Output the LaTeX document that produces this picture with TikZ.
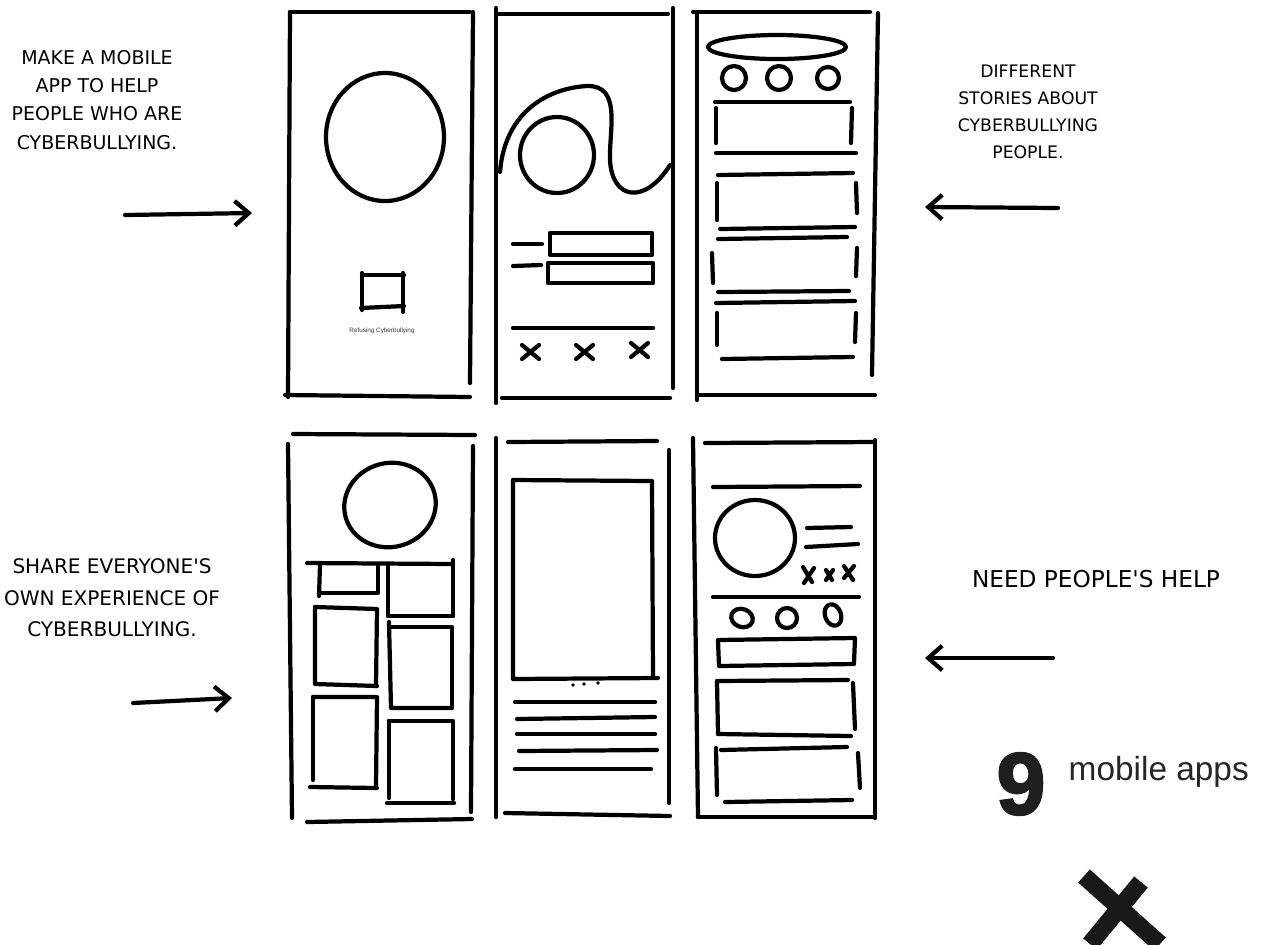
\documentclass[tikz,border=0pt]{standalone}
\usepackage{fontspec}
\setmainfont{Liberation Sans}
\newfontfamily\handfont{DejaVu Sans}
\newfontfamily\heavyfont{Liberation Sans Bold}[FakeBold=2.5]
\usetikzlibrary{arrows.meta,positioning}

\begin{document}
\begin{tikzpicture}[
  x=0.01cm, y=-0.01cm,
  pen/.style={line width=1.2pt, line cap=round, line join=round},
  note/.style={align=center, inner sep=0pt},
  hint/.style={pen, -{Straight Barb[length=4pt, width=7pt]}},
  brush/.style={line width=5pt, draw=black!90}
]
\useasboundingbox (0,0) rectangle (1262,944);

% notes and arrows
\node[note, font=\handfont\fontsize{5.4}{8}\selectfont] (make) at (97,100)
  {MAKE A MOBILE\\APP TO HELP\\PEOPLE WHO ARE\\CYBERBULLYING.};
\node[note, font=\handfont\fontsize{4.9}{7.7}\selectfont] (stories) at (1028,112)
  {DIFFERENT\\STORIES ABOUT\\CYBERBULLYING\\PEOPLE.};
\node[note, font=\handfont\fontsize{5.7}{9}\selectfont] (share) at (112,598)
  {SHARE EVERYONE'S\\OWN EXPERIENCE OF\\CYBERBULLYING.};
\node[note, font=\handfont\fontsize{6.6}{9}\selectfont] (need) at (1096,579)
  {NEED PEOPLE'S HELP};

\coordinate (makeA) at (125,215);
\coordinate (makeB) at (252,213);
\coordinate (storiesA) at (1058,208);
\coordinate (storiesB) at (925,207);
\coordinate (shareA) at (133,703);
\coordinate (shareB) at (232,698);
\coordinate (needA) at (1053,658);
\coordinate (needB) at (925,658);
\draw[hint] (makeA) -- (makeB);
\draw[hint] (storiesA) -- (storiesB);
\draw[hint] (shareA) -- (shareB);
\draw[hint] (needA) -- (needB);

% screen 1: splash
\draw[pen] (290,12) -- (470,12);
\draw[pen] (290,12) -- (288,397);
\draw[pen] (473,12) -- (470,383);
\draw[pen] (285,395) -- (470,397);
\draw[pen] (385,137) ellipse [x radius=59, y radius=64];
\draw[pen] (362,273) -- (362,310);
\draw[pen] (362,275) -- (404,275);
\draw[pen] (403,273) -- (403,312);
\draw[pen] (361,308) -- (404,306);
\node[note, font=\fontsize{1.8}{2}\selectfont, text=black!80] (refusing) at (382,331)
  {Refusing Cyberbullying};

% screen 2: login
\draw[pen] (496,8) -- (496,403);
\draw[pen] (497,14) -- (668,14);
\draw[pen] (673,8) -- (673,388);
\draw[pen] (502,398) -- (670,398);
\draw[pen] (500,172) .. controls (505,110) and (550,88) .. (587,86)
  .. controls (622,85) and (609,130) .. (610,160)
  .. controls (612,200) and (645,205) .. (670,165);
\draw[pen] (557,155) ellipse [x radius=37, y radius=38];
\draw[pen] (513,244) -- (542,244);
\draw[pen] (513,266) -- (541,265);
\draw[pen] (550,233) rectangle (652,255);
\draw[pen] (548,263) rectangle (653,283);
\draw[pen] (513,328) -- (653,328);
\draw[pen] (522,345) -- (539,359) (522,359) -- (539,345);
\draw[pen] (576,345) -- (593,359) (576,359) -- (593,345);
\draw[pen] (631,343) -- (648,357) (631,357) -- (648,343);

% screen 3: stories
\draw[pen] (693,12) -- (870,12);
\draw[pen] (697,13) -- (697,400);
\draw[pen] (878,13) -- (872,375);
\draw[pen] (697,395) -- (875,395);
\draw[pen] (777,47) ellipse [x radius=69, y radius=12];
\draw[pen] (734,78) circle [radius=12];
\draw[pen] (779,78) circle [radius=12];
\draw[pen] (828,78) circle [radius=11];
\draw[pen] (715,102) -- (850,102);
\draw[pen] (716,108) -- (716,143);
\draw[pen] (852,108) -- (851,143);
\draw[pen] (716,153) -- (856,153);
\draw[pen] (718,175) -- (853,173);
\draw[pen] (717,183) -- (717,220);
\draw[pen] (856,183) -- (857,213);
\draw[pen] (720,229) -- (855,227);
\draw[pen] (718,239) -- (847,237);
\draw[pen] (712,253) -- (713,283);
\draw[pen] (857,248) -- (856,276);
\draw[pen] (718,292) -- (849,291);
\draw[pen] (716,303) -- (855,301);
\draw[pen] (717,313) -- (717,345);
\draw[pen] (856,313) -- (855,342);
\draw[pen] (722,359) -- (853,357);

% screen 4: gallery
\draw[pen] (293,434) -- (475,435);
\draw[pen] (288,444) -- (292,818);
\draw[pen] (473,446) -- (471,812);
\draw[pen] (307,822) -- (472,819);
\draw[pen, rotate around={15:(390,505)}] (390,505) ellipse [x radius=46, y radius=42];
\draw[pen] (307,563) -- (453,564);
\draw[pen] (453,560) -- (453,616);
\draw[pen] (320,565) -- (319,596);
\draw[pen] (319,593) -- (378,593) -- (378,565);
\draw[pen] (388,566) -- (388,616) -- (453,616);
\draw[pen] (315,607) -- (377,609) -- (376,686);
\draw[pen] (315,607) -- (315,684) -- (377,686);
\draw[pen] (389,622) -- (391,708) -- (452,708);
\draw[pen] (390,627) -- (452,627) -- (452,706);
\draw[pen] (313,697) -- (377,697) -- (376,787);
\draw[pen] (313,697) -- (313,780);
\draw[pen] (310,787) -- (377,788);
\draw[pen] (389,721) -- (453,721) -- (453,799);
\draw[pen] (389,721) -- (389,798);
\draw[pen] (387,803) -- (454,803);

% screen 5: article
\draw[pen] (496,438) -- (496,817);
\draw[pen] (508,442) -- (657,441);
\draw[pen] (669,450) -- (669,803);
\draw[pen] (505,813) -- (670,816);
\draw[pen] (513,480) -- (652,481) -- (653,677);
\draw[pen] (513,480) -- (513,679) -- (658,678);
\fill (573,685) circle [radius=1.8];
\fill (584,684) circle [radius=1.8];
\fill (598,683) circle [radius=1.8];
\draw[pen] (515,702) -- (655,702);
\draw[pen] (517,719) -- (655,717);
\draw[pen] (517,734) -- (655,734);
\draw[pen] (519,751) -- (657,750);
\draw[pen] (515,769) -- (651,769);

% screen 6: profile
\draw[pen] (693,438) -- (698,817);
\draw[pen] (705,443) -- (875,442);
\draw[pen] (875,440) -- (875,818);
\draw[pen] (698,817) -- (873,817);
\draw[pen] (713,487) -- (860,486);
\draw[pen] (755,538) ellipse [x radius=40, y radius=38];
\draw[pen] (807,528) -- (851,527);
\draw[pen] (806,547) -- (858,544);
\draw[pen] (803,567) -- (812,582) (814,568) -- (804,583);
\draw[pen] (826,570) -- (832,580) (833,570) -- (826,580);
\draw[pen] (844,566) -- (853,580) (854,566) -- (844,578);
\draw[pen] (713,597) -- (859,597);
\draw[pen, rotate around={-20:(742,618)}] (742,618) ellipse [x radius=11, y radius=9];
\draw[pen] (787,618) ellipse [x radius=10, y radius=10];
\draw[pen, rotate around={20:(833,615)}] (833,615) ellipse [x radius=8, y radius=11];
\draw[pen] (718,640) -- (855,638) -- (854,664) -- (719,666) -- cycle;
\draw[pen] (717,681) -- (848,680);
\draw[pen] (717,681) -- (718,734);
\draw[pen] (718,734) -- (851,736);
\draw[pen] (853,683) -- (855,729);
\draw[pen] (721,750) -- (847,747);
\draw[pen] (716,748) -- (717,795);
\draw[pen] (858,753) -- (860,788);
\draw[pen] (725,802) -- (852,800);

% count
\node[note, font=\heavyfont\fontsize{25}{25}\selectfont, text=black!88] (nine) at (1021,784) {9};
\node[note, font=\fontsize{9.5}{11}\selectfont, text=black!85, anchor=base west] (apps) at (1068,780) {mobile apps};

% brush cross
\draw[brush] (1084,876) -- (1160,944);
\draw[brush] (1141,882) -- (1090,944);
\end{tikzpicture}
\end{document}
